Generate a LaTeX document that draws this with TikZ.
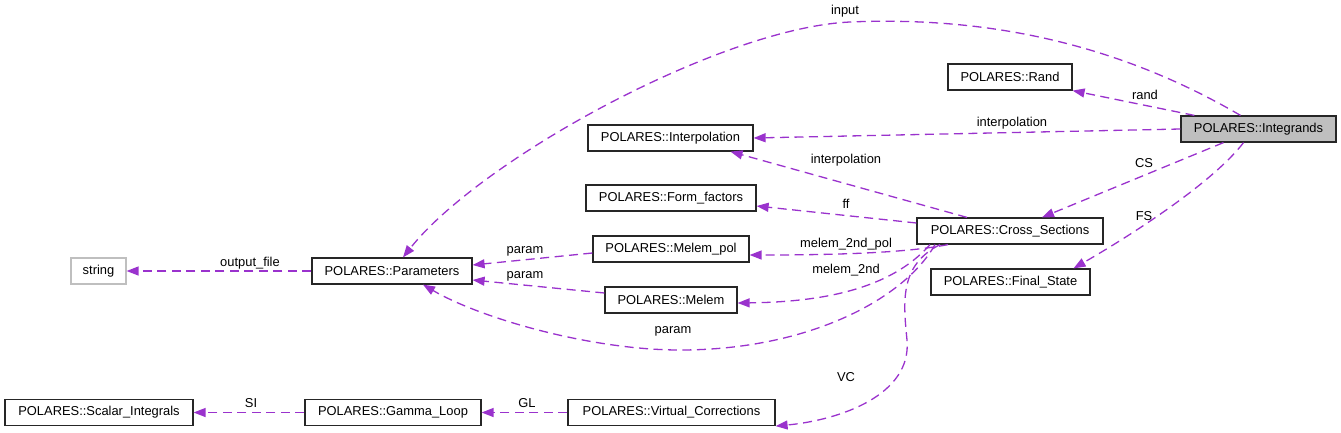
\documentclass[tikz,border=0pt]{standalone}
\usepackage{fontspec}
\setmainfont{Liberation Sans}
\usetikzlibrary{arrows.meta}
\definecolor{edgecol}{HTML}{9A32CD}
\definecolor{fillgray}{HTML}{BFBFBF}
\tikzset{
  cls/.style={draw=black!85, line width=1.2pt, minimum height=26pt, inner sep=0pt, font=\fontsize{12.9}{15}\selectfont, fill=white},
  clsmain/.style={cls, fill=fillgray},
  clsext/.style={cls, draw=fillgray},
  rel/.style={draw=edgecol, line width=1.3pt, dash pattern=on 9pt off 5.5pt, -{Triangle[length=12pt,width=9pt]}},
  lbl/.style={font=\fontsize{12.9}{15}\selectfont, inner sep=0pt}
}
\begin{document}
\begin{tikzpicture}[x=1pt,y=-1pt]
\useasboundingbox (0,0) rectangle (1341,432);
% nodes
\node[clsmain, minimum width=155pt] (intg) at (1258.5,129) {POLARES::Integrands};
\node[cls, minimum width=124pt] (rand) at (1010,77) {POLARES::Rand};
\node[cls, minimum width=165pt] (interp) at (670.5,138) {POLARES::Interpolation};
\node[cls, minimum width=170pt] (ff) at (671,198) {POLARES::Form\_factors};
\node[cls, minimum width=186pt] (cs) at (1010,231) {POLARES::Cross\_Sections};
\node[cls, minimum width=159pt] (fs) at (1010.5,282) {POLARES::Final\_State};
\node[cls, minimum width=156pt] (mpol) at (671,249) {POLARES::Melem\_pol};
\node[cls, minimum width=132pt] (melem) at (671,300) {POLARES::Melem};
\node[cls, minimum width=160pt] (params) at (392,271) {POLARES::Parameters};
\node[clsext, minimum width=55pt] (string) at (98.5,271) {string};
\node[cls, minimum width=188pt] (si) at (99,412.5) {POLARES::Scalar\_Integrals};
\node[cls, minimum width=176pt] (gl) at (393,412.5) {POLARES::Gamma\_Loop};
\node[cls, minimum width=207pt] (vc) at (671.5,412.5) {POLARES::Virtual\_Corrections};
% edges from Integrands
\draw[rel] ([xshift=-18pt]intg.north) .. controls (1120,45) and (990,16) .. (850,22)
  .. controls (720,28) and (480,160) .. ([xshift=11pt]params.north);
\node[lbl] (linput) at (845,11) {input};
\draw[rel] ([xshift=14pt]intg.north west) -- (rand.south east);
\node[lbl] (lrand) at (1145,95) {rand};
\draw[rel] (intg.west) -- (interp.east);
\node[lbl] (linterp1) at (1012,123) {interpolation};
\draw[rel] ([xshift=-35pt]intg.south) -- ([xshift=32pt]cs.north);
\node[lbl] (lcs) at (1144,163) {CS};
\draw[rel] ([xshift=-15pt]intg.south) .. controls (1215,180) and (1140,230) .. ([xshift=63pt]fs.north);
\node[lbl] (lfs) at (1144,216) {FS};
% edges from Cross_Sections
\draw[rel] ([xshift=-43pt]cs.north) -- ([xshift=60pt]interp.south);
\node[lbl] (linterp2) at (846,160) {interpolation};
\draw[rel] ([yshift=8pt]cs.west) -- ([yshift=-8pt]ff.east);
\node[lbl] (lff) at (846,204) {ff};
\draw[rel] ([xshift=-62pt]cs.south) .. controls (910,252) and (850,255) .. ([yshift=-6pt]mpol.east);
\node[lbl] (lm2p) at (846,244) {melem\_2nd\_pol};
\draw[rel] ([xshift=-80pt]cs.south) .. controls (890,290) and (820,302) .. ([yshift=-3pt]melem.east);
\node[lbl] (lm2) at (846,270) {melem\_2nd};
\draw[rel] ([xshift=-75pt]cs.south) .. controls (905,298) and (810,350) .. (680,350)
  .. controls (590,350) and (480,318) .. ([xshift=31pt]params.south);
\node[lbl] (lparam3) at (673,331) {param};
\draw[rel] ([xshift=-70pt]cs.south) .. controls (900,265) and (903,300) .. (907,340)
  .. controls (912,395) and (840,420) .. (vc.south east);
\node[lbl] (lvc) at (846,377) {VC};
% edges to Parameters
\draw[rel] ([yshift=-4pt]mpol.west) -- ([yshift=6pt]params.east);
\node[lbl] (lparam1) at (525,251) {param};
\draw[rel] ([yshift=7pt]melem.west) -- ([yshift=-9pt]params.east);
\node[lbl] (lparam2) at (525,276) {param};
\draw[rel] (params.west) -- (string.east);
\node[lbl] (lout) at (250,263) {output\_file};
% bottom chain
\draw[rel] (vc.west) -- (gl.east);
\node[lbl] (lgl) at (527,403) {GL};
\draw[rel] (gl.west) -- (si.east);
\node[lbl] (lsi) at (251,403) {SI};
\end{tikzpicture}
\end{document}
